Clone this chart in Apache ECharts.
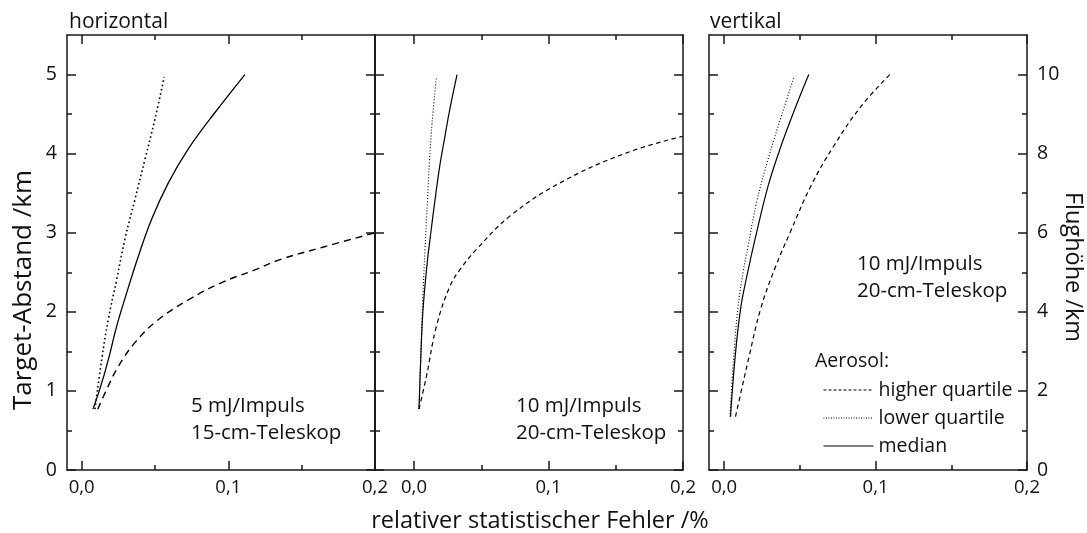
<!DOCTYPE html>
<html>
<head>
<meta charset="utf-8">
<script src="https://cdn.jsdelivr.net/npm/echarts@6/dist/echarts.min.js"></script>
<style>
html,body{margin:0;padding:0;background:#fff;}
#chart{width:1087px;height:533px;}
</style>
</head>
<body>
<div id="chart"></div>
<script>
// ---- tick values ----
const X_MAJOR = [0, 0.1, 0.2];
const X_MINOR = [0.05, 0.15];
const Y_MAJOR = [0, 1, 2, 3, 4, 5];
const Y_MINOR = [0.5, 1.5, 2.5, 3.5, 4.5];
const H_MAJOR = [0, 2, 4, 6, 8, 10];
const H_MINOR = [1, 3, 5, 7, 9];

// ---- series names ----
const NAMES = ['higher quartile', 'lower quartile', 'median'];

// ---- panel 1: horizontal, 5 mJ/Impuls, 15-cm-Teleskop (x: error %, y: Target-Abstand km) ----
const h5HigherX = [0.0110, 0.0181, 0.0250, 0.0363, 0.0522, 0.0727, 0.0955, 0.1180, 0.1352, 0.1650, 0.2000];
const h5HigherY = [0.77, 1.06, 1.31, 1.61, 1.90, 2.15, 2.37, 2.53, 2.66, 2.82, 3.00];
const h5LowerX = [0.0091, 0.0136, 0.0181, 0.0239, 0.0295, 0.0363, 0.0432, 0.0500, 0.0563];
const h5LowerY = [0.77, 1.39, 1.90, 2.41, 2.92, 3.42, 3.93, 4.44, 4.97];
const h5MedianX = [0.0077, 0.0130, 0.0181, 0.0239, 0.0307, 0.0386, 0.0477, 0.0591, 0.0727, 0.0909, 0.1113];
const h5MedianY = [0.77, 1.06, 1.39, 1.82, 2.24, 2.70, 3.17, 3.63, 4.06, 4.52, 5.00];

// ---- panel 2: horizontal, 10 mJ/Impuls, 20-cm-Teleskop ----
const h10HigherX = [0.0037, 0.0092, 0.0167, 0.0266, 0.0340, 0.0465, 0.0713, 0.1085, 0.1580, 0.2000];
const h10HigherY = [0.77, 1.18, 1.82, 2.32, 2.53, 2.79, 3.21, 3.63, 4.01, 4.22];
const h10LowerX = [0.0037, 0.0052, 0.0066, 0.0082, 0.0100, 0.0115, 0.0135, 0.0167];
const h10LowerY = [0.77, 1.50, 2.20, 2.80, 3.40, 3.90, 4.40, 4.97];
const h10MedianX = [0.0037, 0.0050, 0.0066, 0.0097, 0.0125, 0.0155, 0.0191, 0.0228, 0.0266, 0.0320];
const h10MedianY = [0.77, 1.40, 2.00, 2.60, 3.00, 3.40, 3.84, 4.20, 4.56, 5.00];

// ---- panel 3: vertikal, 10 mJ/Impuls, 20-cm-Teleskop (y: Flughöhe km) ----
const v10HigherX = [0.0075, 0.0113, 0.0160, 0.0240, 0.0335, 0.0435, 0.0575, 0.0725, 0.0905, 0.1094];
const v10HigherH = [1.35, 2.00, 2.79, 4.06, 5.10, 6.00, 7.20, 8.20, 9.20, 10.00];
const v10LowerX = [0.0038, 0.0062, 0.0090, 0.0125, 0.0158, 0.0214, 0.0290, 0.0379, 0.0462];
const v10LowerH = [1.35, 2.79, 4.06, 5.00, 5.66, 6.76, 7.86, 8.96, 9.95];
const v10MedianX = [0.0042, 0.0071, 0.0108, 0.0150, 0.0214, 0.0290, 0.0368, 0.0467, 0.0559];
const v10MedianH = [1.35, 2.79, 4.06, 4.90, 6.00, 7.18, 8.11, 9.13, 10.00];

// ---- texts ----
const X_TITLE = 'relativer statistischer Fehler /%';
const Y_TITLE = 'Target-Abstand /km';
const Y2_TITLE = 'Flughöhe /km';
const PANEL_TITLES = ['horizontal', 'vertikal'];
const NOTES = [['5 mJ/Impuls', '15-cm-Teleskop'], ['10 mJ/Impuls', '20-cm-Teleskop'], ['10 mJ/Impuls', '20-cm-Teleskop']];
const LEGEND_TITLE = 'Aerosol:';

const FONT = 'Open Sans';
const AX = '#1a1a1a';

const zip = (xs, ys) => xs.map((x, i) => [x, ys[i]]);
const fmtX = v => v.toFixed(1).replace('.', ',');

const grids = [
  {left: 67, top: 35, width: 308, height: 435},
  {left: 375, top: 35, width: 308, height: 435},
  {left: 709, top: 35, width: 318, height: 435}
];
const xRanges = [[-0.01, 0.2], [-0.029, 0.2], [-0.01, 0.2]];

const xAxes = [];
const yAxes = [];

function addX(g, pos, values, len, showLine, showLabel, lw) {
  xAxes.push({
    type: 'value', gridIndex: g, position: pos,
    min: xRanges[g][0], max: xRanges[g][1],
    axisLine: {show: showLine, onZero: false, lineStyle: {color: AX, width: lw || 1.5}},
    axisTick: {show: true, inside: true, length: len, customValues: values, lineStyle: {color: AX, width: 1.5}},
    axisLabel: {show: showLabel, customValues: values, formatter: fmtX, fontSize: 18.5, color: '#111', margin: 8, fontFamily: FONT},
    splitLine: {show: false}
  });
  return xAxes.length - 1;
}
function addY(g, pos, min, max, values, len, showLine, showLabel, lw) {
  yAxes.push({
    type: 'value', gridIndex: g, position: pos,
    min: min, max: max,
    axisLine: {show: showLine, onZero: false, lineStyle: {color: AX, width: lw || 1.5}},
    axisTick: {show: true, inside: true, length: len, customValues: values, lineStyle: {color: AX, width: 1.5}},
    axisLabel: {show: showLabel, customValues: values, fontSize: 19.5, color: '#111', margin: 10, fontFamily: FONT},
    splitLine: {show: false}
  });
  return yAxes.length - 1;
}

const dataX = [], dataY = [];
for (let g = 0; g < 3; g++) {
  dataX[g] = addX(g, 'bottom', X_MAJOR, 9, true, true);
  addX(g, 'bottom', X_MINOR, 5, false, false);
  addX(g, 'top', X_MAJOR, 9, true, false);
  addX(g, 'top', X_MINOR, 5, false, false);
  const leftW = g === 1 ? 2 : 1.5;
  const rightW = g === 0 ? 2 : 1.5;
  dataY[g] = addY(g, 'left', 0, 5.5, Y_MAJOR, 9, true, g === 0, leftW);
  addY(g, 'left', 0, 5.5, Y_MINOR, 5, false, false);
  if (g < 2) {
    addY(g, 'right', 0, 5.5, Y_MAJOR, 9, true, false, rightW);
    addY(g, 'right', 0, 5.5, Y_MINOR, 5, false, false);
  } else {
    dataY[g] = addY(g, 'right', 0, 11, H_MAJOR, 9, true, true, rightW);
    addY(g, 'right', 0, 11, H_MINOR, 5, false, false);
  }
}

const styles = [
  {higher: {type: [7, 5], width: 1.4}, lower: {type: [1.6, 2.8], width: 1.6}, median: {type: 'solid', width: 1.3}},
  {higher: {type: [4.5, 3.5], width: 1.2}, lower: {type: [1, 2], width: 1.1}, median: {type: 'solid', width: 1.2}},
  {higher: {type: [4.5, 3.5], width: 1.2}, lower: {type: [1, 2], width: 1.1}, median: {type: 'solid', width: 1.2}}
];

const panelData = [
  {higher: zip(h5HigherX, h5HigherY), lower: zip(h5LowerX, h5LowerY), median: zip(h5MedianX, h5MedianY)},
  {higher: zip(h10HigherX, h10HigherY), lower: zip(h10LowerX, h10LowerY), median: zip(h10MedianX, h10MedianY)},
  {higher: zip(v10HigherX, v10HigherH), lower: zip(v10LowerX, v10LowerH), median: zip(v10MedianX, v10MedianH)}
];

const series = [];
for (let g = 0; g < 3; g++) {
  ['higher', 'lower', 'median'].forEach((k, i) => {
    series.push({
      type: 'line', name: NAMES[i],
      xAxisIndex: dataX[g], yAxisIndex: dataY[g],
      data: panelData[g][k],
      symbol: 'none', smooth: 0.4, silent: true,
      clip: true,
      lineStyle: {color: '#000', width: styles[g][k].width, type: styles[g][k].type, cap: 'butt'}
    });
  });
}

const txt = (x, y, text, size, extra) => Object.assign({
  type: 'text', x: x, y: y, silent: true,
  style: Object.assign({text: text, fill: '#111', font: size + 'px "' + FONT + '"', align: 'left', verticalAlign: 'middle'}, extra || {})
});

const graphics = [
  txt(69, 22, PANEL_TITLES[0], 21),
  txt(710, 22, PANEL_TITLES[1], 21),
  txt(191, 406, NOTES[0][0], 20.5),
  txt(191, 433, NOTES[0][1], 20.5),
  txt(516, 406, NOTES[1][0], 20.5),
  txt(516, 433, NOTES[1][1], 20.5),
  txt(857, 264, NOTES[2][0], 20.5),
  txt(857, 291, NOTES[2][1], 20.5),
  txt(815, 361, LEGEND_TITLE, 19.5),
  txt(540, 521, X_TITLE, 23.5, {align: 'center'}),
  {type: 'text', x: 24, y: 290, rotation: Math.PI / 2, silent: true,
   style: {text: Y_TITLE, fill: '#111', font: '26px "' + FONT + '"', align: 'center', verticalAlign: 'middle'}},
  {type: 'text', x: 1073, y: 267, rotation: -Math.PI / 2, silent: true,
   style: {text: Y2_TITLE, fill: '#111', font: '23.5px "' + FONT + '"', align: 'center', verticalAlign: 'middle'}}
];

const chart = echarts.init(document.getElementById('chart'), null, {renderer: 'canvas'});
chart.setOption({
  animation: false,
  backgroundColor: '#fff',
  textStyle: {fontFamily: FONT},
  grid: grids.map(g => Object.assign({containLabel: false, outerBoundsMode: 'none'}, g)),
  xAxis: xAxes,
  yAxis: yAxes,
  legend: {
    show: true, orient: 'vertical', left: 818, top: 375,
    itemWidth: 50, itemHeight: 12, itemGap: 8, selectedMode: false,
    textStyle: {fontSize: 19.5, color: '#111', fontFamily: FONT, lineHeight: 19},
    itemStyle: {opacity: 0},
    data: [
      {name: NAMES[0], lineStyle: {type: [3, 2], width: 1, color: '#000'}},
      {name: NAMES[1], lineStyle: {type: [1, 1.5], width: 1, color: '#000'}},
      {name: NAMES[2], lineStyle: {type: 'solid', width: 1, color: '#000'}}
    ]
  },
  graphic: graphics,
  series: series
});
</script>
</body>
</html>
